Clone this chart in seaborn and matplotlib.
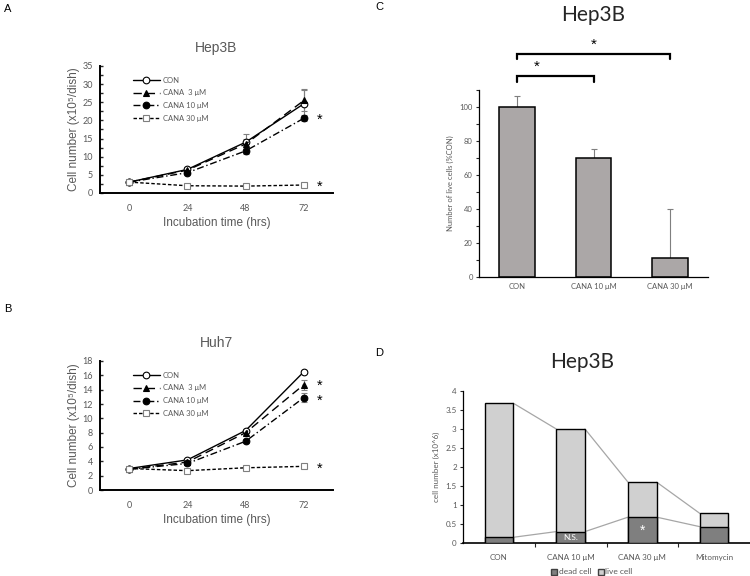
import numpy as np
import pandas as pd
import matplotlib
matplotlib.use("Agg")
import matplotlib.pyplot as plt
import seaborn as sns
from matplotlib.ticker import MultipleLocator, FixedLocator, FixedFormatter
from matplotlib.patches import Patch

# ---------------- data ----------------
hours = [0, 24, 48, 72]
series_labels = ["CON", "CANA  3 μM", "CANA 10 μM", "CANA 30 μM"]

hep_con = [3.0, 6.5, 14.0, 24.6]
hep_c3 = [3.0, 6.3, 13.5, 25.5]
hep_c10 = [3.0, 5.6, 11.6, 20.6]
hep_c30 = [3.0, 2.0, 1.9, 2.2]
hep_err_con = [0.2, 0.8, 2.3, 4.0]
hep_err_c3 = [0.2, 0.6, 1.5, 3.0]
hep_err_c10 = [0.2, 0.5, 0.8, 0.8]
hep_err_c30 = [0.1, 0.1, 0.1, 0.1]

huh_con = [3.0, 4.2, 8.3, 16.5]
huh_c3 = [2.9, 3.9, 8.0, 14.7]
huh_c10 = [2.9, 3.7, 6.8, 12.9]
huh_c30 = [3.0, 2.7, 3.1, 3.3]
huh_err_con = [0.1, 0.1, 0.2, 0.2]
huh_err_c3 = [0.1, 0.2, 0.3, 0.7]
huh_err_c10 = [0.1, 0.2, 0.3, 0.6]
huh_err_c30 = [0.1, 0.1, 0.1, 0.1]

c_labels = ["CON", "CANA 10 μM", "CANA 30 μM"]
c_values = [100, 70, 11]
c_err = [6.5, 5.5, 29]

d_labels = ["CON", "CANA 10 μM", "CANA 30 μM", "Mitomycin"]
d_dead = [0.15, 0.30, 0.68, 0.43]
d_live = [3.53, 2.70, 0.92, 0.35]
d_yticks = [0, 0.5, 1, 1.5, 2, 2.5, 3, 3.5, 4]
d_yticklabels = ["0", "0.5", "1", "1.5", "2", "2.5", "3", "3.5", "4"]

# ---------------- style ----------------
sns.set_style("ticks")
plt.rcParams["font.family"] = ["Liberation Sans", "DejaVu Sans"]
GRAY_TXT = "#595959"

fig = plt.figure(figsize=(7.5, 5.76), dpi=100)
W, H = 750.0, 576.0


def ax_px(l, t, r, b):
    return fig.add_axes([l / W, 1 - b / H, (r - l) / W, (b - t) / H])


line_styles = [
    dict(ls="-", marker="o", mfc="white", mec="black"),
    dict(ls=(0, (6, 3.5)), marker="^", mfc="black", mec="black"),
    dict(ls=(0, (5, 2, 1, 2)), marker="o", mfc="black", mec="black"),
    dict(ls=(0, (2.5, 1.5)), marker="s", mfc="white", mec="#7f7f7f"),
]


def growth_panel(ax, series, errs, title, ymax, ystep, yminor, stars):
    for vals, err, lab, st in zip(series, errs, series_labels, line_styles):
        ax.errorbar(hours, vals, yerr=err, fmt="none", ecolor="#7f7f7f",
                    elinewidth=0.8, capsize=2, capthick=0.8, zorder=1)
        n_before = len(ax.lines)
        sns.lineplot(x=hours, y=vals, ax=ax, color="black", lw=1.0,
                     marker=st["marker"], markersize=4.8, markeredgewidth=0.8,
                     markerfacecolor=st["mfc"], markeredgecolor=st["mec"],
                     label=lab, zorder=3)
        for ln in ax.lines[n_before:]:
            ln.set_linestyle(st["ls"])
    ax.set_xlim(-12, 84)
    ax.set_ylim(0, ymax)
    ax.set_xticks(hours)
    ax.set_xticklabels([str(h) for h in hours])
    ax.yaxis.set_major_locator(MultipleLocator(ystep))
    if yminor:
        ax.yaxis.set_minor_locator(MultipleLocator(yminor))
    ax.tick_params(axis="y", which="both", direction="in", length=2.5, width=1,
                   labelsize=6.5, labelcolor=GRAY_TXT, pad=5)
    ax.tick_params(axis="x", length=0, labelsize=6.5, labelcolor=GRAY_TXT, pad=8)
    for lab in ax.get_xticklabels() + ax.get_yticklabels():
        lab.set_family(["Lato", "DejaVu Sans"])
    for s in ["top", "right"]:
        ax.spines[s].set_visible(False)
    for s in ["left", "bottom"]:
        ax.spines[s].set_linewidth(1.4)
        ax.spines[s].set_color("black")
    ax.set_xlabel("Incubation time (hrs)", fontsize=8.5, color=GRAY_TXT, labelpad=3)
    ax.set_ylabel("Cell number (x10⁵/dish)", fontsize=8.5, color=GRAY_TXT, labelpad=2)
    ax.set_title(title, fontsize=10, color=GRAY_TXT, pad=10)
    leg = ax.legend(loc="upper left", bbox_to_anchor=(0.11, 0.97), frameon=False,
                    handlelength=3.6, handletextpad=0.4, labelspacing=0.75,
                    prop=dict(family=["Lato", "DejaVu Sans"], size=5.5))
    for t in leg.get_texts():
        t.set_color(GRAY_TXT)
    for yv in stars:
        ax.text(78.5, yv, "*", fontsize=10.5, ha="center", va="center", color="black")


axA = ax_px(100, 66, 333, 193)
growth_panel(axA, [hep_con, hep_c3, hep_c10, hep_c30],
             [hep_err_con, hep_err_c3, hep_err_c10, hep_err_c30],
             "Hep3B", 35, 5, 2.5, [hep_c10[3] - 0.5, hep_c30[3] - 0.5])

axB = ax_px(100, 361, 333, 490)
growth_panel(axB, [huh_con, huh_c3, huh_c10, huh_c30],
             [huh_err_con, huh_err_c3, huh_err_c10, huh_err_c30],
             "Huh7", 18, 2, None, [huh_c3[3] - 0.2, huh_c10[3] - 0.4, huh_c30[3] - 0.3])

# ---------------- Panel C ----------------
axC = ax_px(479, 90, 708, 277)
c_df = pd.DataFrame({"group": c_labels, "value": c_values})
xpos = np.arange(len(c_labels))
axC.errorbar(xpos, c_values, yerr=[[1, 1, 1], c_err], fmt="none", ecolor="#7f7f7f",
             elinewidth=0.8, capsize=2.5, capthick=0.8, zorder=1)
sns.barplot(data=c_df, x="group", y="value", color="#aba7a7", saturation=1,
            edgecolor="black", linewidth=1.1, width=0.47, errorbar=None, ax=axC, zorder=2)
axC.set_xlim(-0.5, 2.5)
axC.set_ylim(0, 110)
axC.yaxis.set_major_locator(FixedLocator([0, 20, 40, 60, 80, 100]))
axC.yaxis.set_minor_locator(MultipleLocator(10))
axC.tick_params(axis="y", which="both", direction="out", length=2.5, width=0.8,
                labelsize=5.5, labelcolor=GRAY_TXT, pad=2)
axC.tick_params(axis="x", length=0, labelsize=5.5, labelcolor=GRAY_TXT, pad=4)
for lab in axC.get_xticklabels() + axC.get_yticklabels():
    lab.set_family(["Lato", "DejaVu Sans"])
axC.set_xlabel("")
axC.set_ylabel("Number of live cells (%CON)", fontsize=5.5, color=GRAY_TXT, labelpad=4,
               family=["Lato", "DejaVu Sans"])
for s in ["top", "right"]:
    axC.spines[s].set_visible(False)
for s in ["left", "bottom"]:
    axC.spines[s].set_linewidth(0.9)
    axC.spines[s].set_color("black")
# significance brackets
for (x0, x1, yb) in [(0, 1, 118), (0, 2, 131)]:
    axC.plot([x0, x0, x1, x1], [yb - 3, yb, yb, yb - 3], color="black", lw=1.6,
             clip_on=False, solid_joinstyle="miter")
    axC.text((x0 + x1) / 2 - (0.25 if x1 == 1 else 0), yb + 5.5, "*", fontsize=11,
             ha="center", va="center", color="black", clip_on=False)
fig.text(593 / W, 1 - 15 / H, "Hep3B", fontsize=15, ha="center", va="center",
         family=["Lato", "DejaVu Sans"])

# ---------------- Panel D ----------------
axD = ax_px(463, 391, 750, 543)
d_total = [a + b for a, b in zip(d_dead, d_live)]
d_df = pd.DataFrame({"group": d_labels, "total": d_total, "dead": d_dead})
bw = 0.4
sns.barplot(data=d_df, x="group", y="total", color="#d0d0d0", saturation=1,
            edgecolor="black", linewidth=1.0, width=bw, errorbar=None, ax=axD, zorder=2)
sns.barplot(data=d_df, x="group", y="dead", color="#7f7f7f", saturation=1,
            edgecolor="black", linewidth=1.0, width=bw, errorbar=None, ax=axD, zorder=3)
for vals in (d_total, d_dead):
    for i in range(len(vals) - 1):
        axD.plot([i + bw / 2, i + 1 - bw / 2], [vals[i], vals[i + 1]],
                 color="#a6a6a6", lw=0.9, zorder=1)
axD.text(1, d_dead[1] / 2, "N.S.", color="white", fontsize=6, ha="center", va="center",
         family=["Lato", "DejaVu Sans"], zorder=4)
axD.text(2, d_dead[2] / 2 - 0.02, "*", color="white", fontsize=10, ha="center", va="center",
         zorder=4)
axD.set_xlim(-0.5, 3.5)
axD.set_ylim(0, 4)
axD.yaxis.set_major_locator(FixedLocator(d_yticks))
axD.yaxis.set_major_formatter(FixedFormatter(d_yticklabels))
axD.xaxis.set_minor_locator(FixedLocator([0.5, 1.5, 2.5]))
axD.tick_params(axis="x", which="major", length=0, labelsize=5.8, labelcolor=GRAY_TXT, pad=8)
axD.tick_params(axis="x", which="minor", length=3, width=0.8, direction="out")
axD.tick_params(axis="y", direction="out", length=2.5, width=0.8, labelsize=5.8,
                labelcolor=GRAY_TXT, pad=2)
for lab in axD.get_xticklabels() + axD.get_yticklabels():
    lab.set_family(["Lato", "DejaVu Sans"])
axD.set_xlabel("")
axD.set_ylabel("cell number (x10^6)", fontsize=5.8, color=GRAY_TXT, labelpad=4,
               family=["Lato", "DejaVu Sans"])
for s in ["top", "right"]:
    axD.spines[s].set_visible(False)
axD.spines["left"].set_linewidth(0.9)
axD.spines["bottom"].set_linewidth(1.2)
for s in ["left", "bottom"]:
    axD.spines[s].set_color("black")
fig.text(582 / W, 1 - 362 / H, "Hep3B", fontsize=15, ha="center", va="center",
         family=["Lato", "DejaVu Sans"])
legD = fig.legend(handles=[Patch(facecolor="#7f7f7f", edgecolor="#404040", label="dead cell"),
                           Patch(facecolor="#d0d0d0", edgecolor="#404040", label="live cell")],
                  loc="center", bbox_to_anchor=(592 / W, 1 - 572 / H), ncol=2, frameon=False,
                  handlelength=0.7, handleheight=0.7, handletextpad=0.2, columnspacing=0.8,
                  prop=dict(family=["Lato", "DejaVu Sans"], size=6))
for t in legD.get_texts():
    t.set_color(GRAY_TXT)

# ---------------- panel letters ----------------
for letter, x, y in [("A", 4, 9), ("B", 4, 309), ("C", 375, 7), ("D", 375, 353)]:
    fig.text(x / W, 1 - y / H, letter, fontsize=8, ha="left", va="center", color="black")

fig.savefig("out.png", dpi=100)
